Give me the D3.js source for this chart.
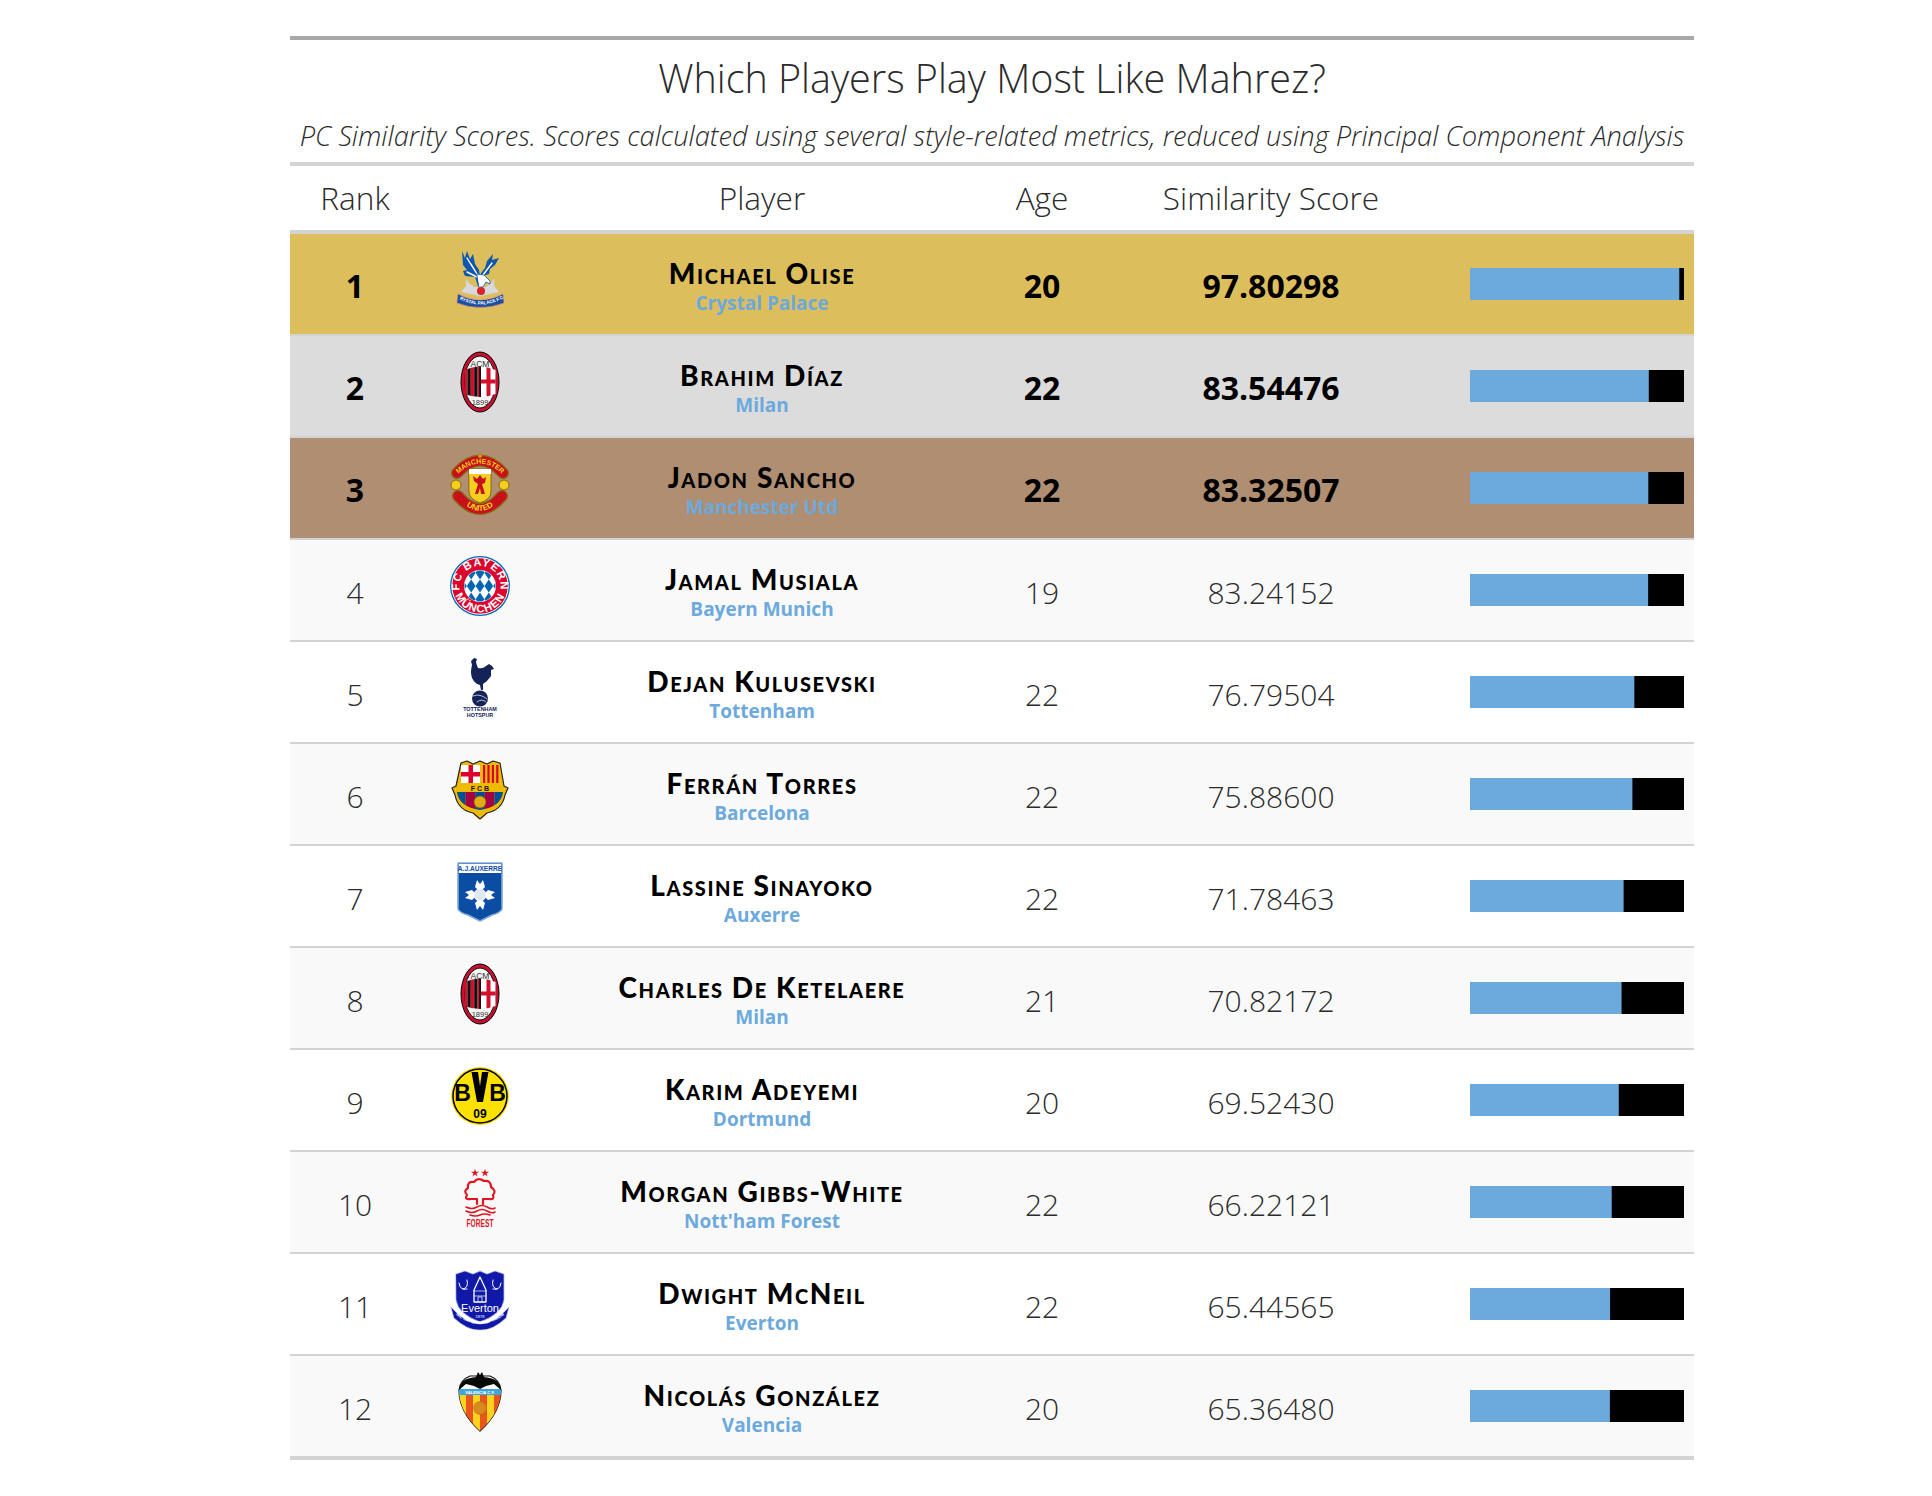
<!DOCTYPE html>
<html>
<head>
<meta charset="utf-8">
<script src="https://cdn.jsdelivr.net/npm/d3@7"></script>
<style>
body { margin: 0; background: #fff; }
text { font-family: "Open Sans", sans-serif; }
</style>
</head>
<body>
<div id="chart"></div>
<script>
/* Similarity table */
const players = ["Michael Olise", "Brahim Díaz", "Jadon Sancho", "Jamal Musiala", "Dejan Kulusevski", "Ferrán Torres", "Lassine Sinayoko", "Charles De Ketelaere", "Karim Adeyemi", "Morgan Gibbs-White", "Dwight McNeil", "Nicolás González"];
const teams = ["Crystal Palace", "Milan", "Manchester Utd", "Bayern Munich", "Tottenham", "Barcelona", "Auxerre", "Milan", "Dortmund", "Nott'ham Forest", "Everton", "Valencia"];
const ages = [20, 22, 22, 19, 22, 22, 22, 21, 20, 22, 22, 20];
const scores = [97.80298, 83.54476, 83.32507, 83.24152, 76.79504, 75.88600, 71.78463, 70.82172, 69.52430, 66.22121, 65.44565, 65.36480];
const crests = ["palace", "milan", "united", "bayern", "spurs", "barca", "auxerre", "milan", "bvb", "forest", "everton", "valencia"];
const headers = ["Rank", "Player", "Age", "Similarity Score"];
const title = "Which Players Play Most Like Mahrez?";
const subtitle = "PC Similarity Scores. Scores calculated using several style-related metrics, reduced using Principal Component Analysis";

const left = 290, right = 1694, light = "300", dark = "#2b2b2b";
const podium = ["#ddbe5c", "#dcdcdc", "#b08e71"];
const cols = {rank: 355, crest: 480, player: 762, age: 1042, score: 1271};

const svg = d3.select("#chart").append("svg")
  .attr("width", 1932).attr("height", 1496).style("display", "block");
const defs = svg.append("defs");

// small helpers for the badges
function shape(g, tag, attrs) {
  const el = g.append(tag);
  Object.keys(attrs).forEach(k => el.attr(k, attrs[k]));
  return el;
}
function p(g, d, fill, stroke, sw) {
  return shape(g, "path", {d: d, fill: fill, stroke: stroke || "none", "stroke-width": sw || 0, "stroke-linecap": "round", "stroke-linejoin": "round"});
}
function tiny(g, x, y, txt, size, fill, weight) {
  return g.append("text").attr("x", x).attr("y", y).text(txt).attr("text-anchor", "middle")
    .attr("font-size", size).attr("fill", fill).attr("font-weight", weight || 700)
    .style("font-family", "'Liberation Sans', sans-serif");
}
function arcText(g, id, d, txt, size, fill, spacing) {
  shape(defs, "path", {id: id, d: d});
  g.append("text").attr("font-size", size).attr("fill", fill).attr("font-weight", 700)
    .attr("text-anchor", "middle").style("font-family", "'Liberation Sans', sans-serif")
    .style("letter-spacing", spacing || null)
    .append("textPath").attr("href", "#" + id).attr("startOffset", "50%").text(txt);
}
function clipTo(id, d) {
  defs.append("clipPath").attr("id", id).append("path").attr("d", d);
  return "url(#" + id + ")";
}

const drawCrest = {
  palace(g) {
    p(g, "M-14,6 V-1 L-11,3 L-6,7 H6 L11,3 L14,-1 V6 L19,12 L0,16 L-19,12 Z", "#d9d9dc", "#c8c8cc", 0.5);
    p(g, "M-18,-29 L-15,-22 L-13,-29 L-10,-21 L-7,-26 L-5,-16 L-1,-10 L0,-3 L3,4 L-2,6 L-5,-3 L-15,-4 L-17,-9 L-13,-10 L-17,-15 Z", "#0f57ad");
    p(g, "M19,-22 L12,-20 L13,-26 L7,-19 L5,-12 L1,-7 L0,-3 L9,-6 L10,-11 L15,-15 Z", "#0f57ad");
    p(g, "M-13,-22 L-5,-9 M-9,-16 L-3,-6 M-13,-8 L-3,-3 M12,-17 L3,-5", "none", "#fff", 1.4);
    p(g, "M-3,-6 L4,-5 L10,1 L10,4 L6,2 L3,7 L-1,7 Z", "#fff", "#0f57ad", 0.8);
    shape(g, "circle", {cx: 1, cy: 11, r: 4, fill: "#d8232a"});
    p(g, "M-22,14 Q0,26 23,14 L24,23 Q0,32 -23,23 Z", "#1a4fa0", "#e88", 0.6);
    arcText(g, "palaceArc", "M-21,19 Q0,30 22,19", "CRYSTAL PALACE F.C.", 4.6, "#fff");
  },
  milan(g, i) {
    shape(g, "ellipse", {rx: 19, ry: 30, fill: "#c8102e", stroke: "#000", "stroke-width": 1});
    shape(g, "ellipse", {rx: 15.5, ry: 26, fill: "#f4f4f4", stroke: "#111", "stroke-width": 1});
    const band = clipTo("milanClip" + i, "M-15.5,-12 Q0,-19 15.5,-12 V12 Q0,18 -15.5,12 Z");
    const s = g.append("g").attr("clip-path", band);
    d3.range(5).forEach(k => {
      shape(s, "rect", {x: -16 + k * 3.4, y: -20, width: 3.4, height: 40, fill: k % 2 ? "#111" : "#d5102c"});
    });
    shape(s, "rect", {x: 1, y: -20, width: 16, height: 40, fill: "#fff"});
    shape(s, "rect", {x: 6.5, y: -20, width: 4, height: 40, fill: "#d5102c"});
    shape(s, "rect", {x: 1, y: -2.5, width: 16, height: 4, fill: "#d5102c"});
    shape(s, "rect", {x: -0.8, y: -20, width: 1.8, height: 40, fill: "#111"});
    tiny(g, 0, -15, "ACM", 8.5, "#333", 400);
    tiny(g, 0, 23, "1899", 7.5, "#333", 400);
  },
  united(g) {
    const top = "M-23,-11 Q0,-36 23,-11", low = "M-22,12 Q0,38 22,12";
    p(g, top, "none", "#8a6a12", 12); p(g, top, "none", "#c8101a", 9.5);
    p(g, low, "none", "#8a6a12", 12); p(g, low, "none", "#c8101a", 9.5);
    arcText(g, "unitedTop", "M-24,-8 Q0,-33 24,-8", "MANCHESTER", 7, "#f4d21f");
    arcText(g, "unitedLow", "M-20,16 Q0,38 20,16", "UNITED", 8, "#f4d21f");
    p(g, "M-11,-15 H11 V8 Q11,15 0,19 Q-11,15 -11,8 Z", "#f6cf1e", "#8a6a12", 1);
    shape(g, "rect", {x: -11, y: -15, width: 22, height: 5, fill: "#fff"});
    p(g, "M0,-9 L3,-5 L6,-7 L5,-1 L2,0 L5,10 L1,10 L0,4 L-2,10 L-5,10 L-2,0 L-6,-3 L-7,-8 L-3,-5 Z", "#c8101a");
    [-24, 24].forEach(x => shape(g, "circle", {cx: x, cy: 1, r: 5, fill: "#f6cf1e", stroke: "#8a6a12", "stroke-width": 1}));
    shape(g, "circle", {cx: 0, cy: -28, r: 2, fill: "#d9a514", stroke: "#8a6a12", "stroke-width": 0.6});
  },
  bayern(g) {
    shape(g, "circle", {r: 30, fill: "#0066b2"});
    shape(g, "circle", {r: 28.7, fill: "#fff"});
    shape(g, "circle", {r: 27.8, fill: "#dc052d"});
    shape(g, "circle", {r: 16, fill: "#fff"});
    defs.append("clipPath").attr("id", "bayernClip").append("circle").attr("r", 15.5);
    const s = g.append("g").attr("clip-path", "url(#bayernClip)");
    d3.range(-4, 5).forEach(a => d3.range(-4, 5).forEach(b => {
      if (a % 2 === 0 && b % 2 === 0) {
        const cx = a * 4.4, cy = b * 6.6;
        p(s, `M${cx},${cy - 6.6} L${cx + 4.4},${cy} L${cx},${cy + 6.6} L${cx - 4.4},${cy} Z`, "#0066b2");
      }
    }));
    arcText(g, "bayernTop", "M-19,8 A20.5,20.5 0 1 1 19,8", "FC BAYERN", 11, "#fff", "1px");
    arcText(g, "bayernLow", "M-26,5 A26.5,26.5 0 0 0 26,5", "MÜNCHEN", 11, "#fff", "1px");
  },
  spurs(g) {
    const navy = "#132257";
    p(g, "M-6,-30 L-3,-29 L-4,-26 Q-3,-22 -2,-20 Q3,-19 6,-22 L9,-24 L12,-22 L14,-19 L11,-18 L11,-12 L7,-7 L3,-4 L3,2 L1,2 L0,-3 Q-5,-4 -8,-10 Q-10,-16 -8,-23 L-9,-27 Z", navy);
    shape(g, "circle", {cx: 0, cy: 10.5, r: 8, fill: navy});
    p(g, "M-7,8 Q0,5 7,11 M-3,14 Q2,10 6,14", "none", "#fff", 0.7);
    tiny(g, 0, 23, "TOTTENHAM", 5.4, navy);
    tiny(g, 0, 29, "HOTSPUR", 5.4, navy);
  },
  barca(g, i) {
    const outline = "M-19,-27 L-13,-29 L-7,-26 L0,-29 L7,-26 L13,-29 L20,-27 L24,-4 L28,-2 L25,5 Q22,20 7,23 L0,29 L-7,23 Q-22,20 -25,5 L-28,-2 L-24,-4 Z";
    p(g, outline, "#edbb00", "#222", 1.2);
    shape(g, "rect", {x: -19, y: -25, width: 19, height: 18, fill: "#fff"});
    shape(g, "rect", {x: -11.5, y: -25, width: 4.5, height: 18, fill: "#db0030"});
    shape(g, "rect", {x: -19, y: -18, width: 19, height: 4.5, fill: "#db0030"});
    shape(g, "rect", {x: 1, y: -25, width: 19, height: 18, fill: "#edbb00"});
    d3.range(4).forEach(k => shape(g, "rect", {x: 3 + k * 4.4, y: -25, width: 2.2, height: 18, fill: "#db0030"}));
    tiny(g, 0, 0.5, "F C B", 7, "#111");
    const clip = clipTo("barcaClip" + i, "M-23,2 H23 Q21,17 0,20 Q-21,17 -23,2 Z");
    const s = g.append("g").attr("clip-path", clip);
    d3.range(5).forEach(k => shape(s, "rect", {x: -24 + k * 9.6, y: 2, width: 9.6, height: 20, fill: k % 2 ? "#a50044" : "#004d98"}));
    shape(g, "circle", {cx: 0, cy: 12, r: 6, fill: "#e0ac12", stroke: "#8a5a00", "stroke-width": 0.6});
  },
  auxerre(g) {
    p(g, "M-22,-29 H22 V17 Q20,21 12,23 L0,29 L-12,23 Q-20,21 -22,17 Z", "#0a4da2", "#7fa8dc", 1.6);
    shape(g, "rect", {x: -21, y: -28, width: 42, height: 9, fill: "#fff"});
    tiny(g, 0, -21, "A.J.AUXERRE", 6.6, "#0a4da2");
    [0, 90, 180, 270].forEach(a => {
      p(g.append("g").attr("transform", "translate(0,3) rotate(" + a + ")"), "M0,-3 L-5,-8 L-3,-15 L0,-11 L3,-15 L5,-8 Z", "#fff");
    });
    shape(g, "circle", {cx: 0, cy: 3, r: 6, fill: "#dfe9f6", stroke: "#fff", "stroke-width": 1});
  },
  bvb(g) {
    shape(g, "circle", {r: 29, fill: "#fde100"});
    shape(g, "circle", {r: 27, fill: "none", stroke: "#000", "stroke-width": 1.5});
    tiny(g, -17.5, 5, "B", 23, "#000");
    tiny(g, 17.5, 5, "B", 23, "#000");
    p(g, "M-8.5,-24 H-2 L0,-10 L2,-24 H8.5 L3,6 H-3 Z", "#000");
    tiny(g, 0, 22, "09", 12, "#000");
  },
  forest(g) {
    const red = "#e0151f";
    [-5, 5].forEach(x => shape(g, "path", {d: d3.symbol(d3.symbolStar, 20)(), transform: "translate(" + x + ",-25)", fill: red}));
    p(g, "M-3,6 V1 H-9 Q-16,2 -13,-3 Q-17,-7 -12,-10 Q-13,-17 -6,-16 Q-2,-21 4,-17 Q11,-18 11,-11 Q17,-7 13,-3 Q15,2 9,1 H3 V6", "none", red, 2.2);
    p(g, "M-14,9 Q-8,12 -3,9 T7,9 T15,10 M-14,13 Q-8,16 -3,13 T7,13 T15,14 M-10,17 Q-4,19 0,17 T10,17", "none", red, 1.6);
    tiny(g, 0, 29, "FOREST", 11, red).attr("textLength", 27).attr("lengthAdjust", "spacingAndGlyphs");
  },
  everton(g) {
    const blue = "#1018a8";
    p(g, "M-24,-26 L-15,-29 L-7,-26 L0,-29 L7,-26 L15,-29 L24,-26 V0 Q22,14 0,22 Q-22,14 -24,0 Z", blue, "#b8bce6", 0.8);
    p(g, "M-29,7 Q-14,24 0,24 Q14,24 29,7 L26,18 Q12,31 0,30 Q-12,31 -26,18 Z", blue, "#b8bce6", 0.6);
    p(g, "M-6,-10 L0,-23 L6,-10 V2 H-6 Z", "none", "#fff", 1.3);
    p(g, "M-6,-4 H6 M-6,-9 H6 M-2,2 V-3 H2 V2", "none", "#fff", 0.7);
    p(g, "M-21,-17 Q-20,-9 -13,-11 M-13,-20 Q-11,-12 -17,-11 M13,-20 Q11,-12 17,-11 M21,-17 Q20,-9 13,-11", "none", "#fff", 1);
    tiny(g, 0, 12, "Everton", 11, "#fff", 400);
    tiny(g, 0, 18, "1878", 4, "#fff", 400);
    arcText(g, "evertonArc", "M-24,15 Q0,33 24,15", "NIL SATIS NISI OPTIMUM", 4.4, "#fff");
  },
  valencia(g, i) {
    const outline = "M-21,-12 Q-20,-22 -10,-26 H10 Q20,-22 21,-12 Q21,10 0,29 Q-21,10 -21,-12 Z";
    p(g, outline, "#fff", "#111", 1.2);
    const clip = clipTo("valenciaClip" + i, outline);
    const s = g.append("g").attr("clip-path", clip);
    d3.range(6).forEach(k => shape(s, "rect", {x: -21 + k * 7, y: -11, width: 7, height: 42, fill: k % 2 ? "#e8561e" : "#ffd21f"}));
    shape(s, "rect", {x: -21, y: -13, width: 42, height: 6, fill: "#3aa7dc"});
    tiny(g, 0, -8.5, "VALENCIA C.F.", 4.2, "#fff");
    shape(g, "circle", {cx: 0, cy: 6, r: 6.5, fill: "#d88a1e", stroke: "#a8620f", "stroke-width": 0.5});
    p(g, "M-21,-12 Q-20,-22 -10,-24 L-4,-25 L-2,-30 L0,-27 L2,-30 L4,-25 L10,-24 Q20,-22 21,-12 L14,-18 L6,-16 L0,-13 L-6,-16 L-14,-18 Z", "#0a0a0a");
  }
};

// table rules
function rule(y, h, color) {
  svg.append("rect").attr("x", left).attr("y", y).attr("width", right - left).attr("height", h).attr("fill", color);
}
rule(36, 4, "#a8a8a8");
rule(162, 4, "#d3d3d3");
rule(230, 4, "#d3d3d3");

function label(parent, x, y, txt, size, opts) {
  opts = opts || {};
  return parent.append("text").attr("x", x).attr("y", y).text(txt)
    .attr("text-anchor", "middle").attr("font-size", size)
    .attr("font-weight", opts.weight || light)
    .attr("font-style", opts.style || "normal")
    .attr("fill", opts.fill || dark)
    .style("font-family", opts.family || null)
    .style("letter-spacing", opts.spacing || null);
}

label(svg, (left + right) / 2, 92.5, title, 39.5);
label(svg, (left + right) / 2, 146, subtitle, 27.3, {style: "italic"});
headers.forEach((h, k) => label(svg, [cols.rank, cols.player, cols.age, cols.score][k], 210, h, 31.6));

// rows and bars
const y = d3.scaleBand().domain(d3.range(players.length)).range([234, 1458]);
const bar = d3.scaleLinear().domain([0, 100]).range([1470, 1684]);

const rows = svg.selectAll("g.row").data(players).join("g").attr("class", "row")
  .attr("transform", (d, i) => "translate(0," + y(i) + ")");

rows.append("rect").attr("x", left).attr("width", right - left).attr("height", 100)
  .attr("fill", (d, i) => i < 3 ? podium[i] : (i % 2 ? "#f9f9f9" : "#fff"));
rows.append("rect").attr("x", left).attr("y", 100).attr("width", right - left)
  .attr("height", (d, i) => i === players.length - 1 ? 4 : 2).attr("fill", "#d3d3d3");

rows.each(function (d, i) {
  const g = d3.select(this);
  const o = i < 3 ? {weight: "700", fill: "#000"} : {};
  const size = i < 3 ? 32 : 30;
  const base = i < 3 ? 64 : 63.5;
  label(g, cols.rank, base, i + 1, size, o);
  label(g, cols.age, base, ages[i], size, o);
  label(g, cols.score, base, scores[i].toFixed(5), size, o);
  label(g, cols.player, 50, d, 28, {weight: "900", fill: "#000", family: "Lato", spacing: "1.6px"}).style("font-variant", "small-caps");
  label(g, cols.player, 76, teams[i], 19, {weight: "700", fill: "#6ca9dd"});
  g.append("rect").attr("x", bar(0)).attr("y", 34).attr("height", 32).attr("width", bar(100) - bar(0)).attr("fill", "#000");
  g.append("rect").attr("x", bar(0)).attr("y", 34).attr("height", 32).attr("width", bar(scores[i]) - bar(0)).attr("fill", "#6ca9dd");
  const c = g.append("g").attr("transform", "translate(" + cols.crest + ",46)");
  drawCrest[crests[i]](c, i);
});
</script>
</body>
</html>
